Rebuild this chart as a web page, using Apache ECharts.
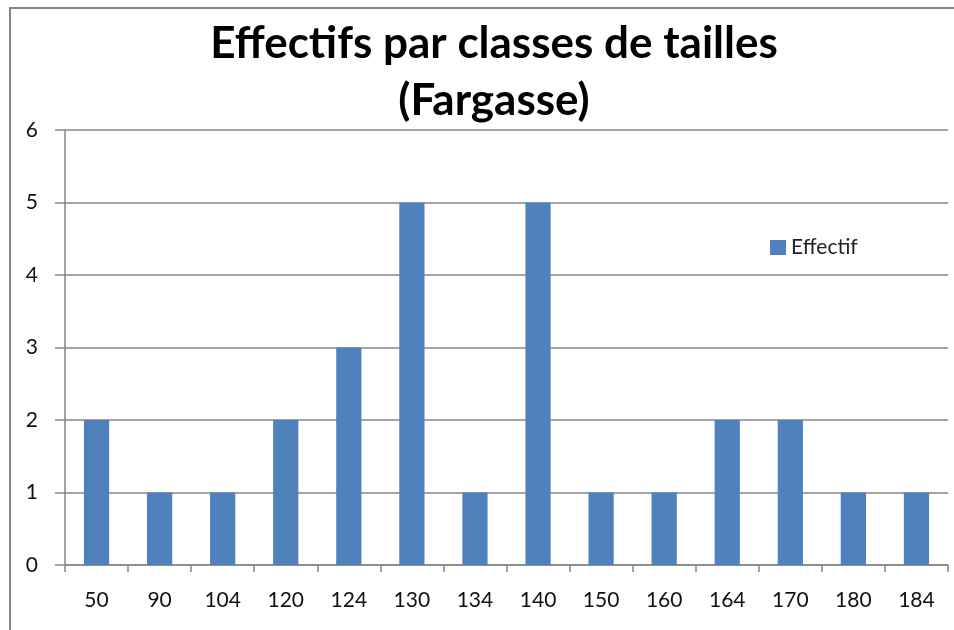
<!DOCTYPE html>
<html><head><meta charset="utf-8">
<script src="https://cdn.jsdelivr.net/npm/echarts@6/dist/echarts.min.js"></script>
<style>html,body{margin:0;padding:0;background:#fff}#c{width:954px;height:630px}</style>
</head><body><div id="c"></div>
<script>
const categories = ['50','90','104','120','124','130','134','140','150','160','164','170','180','184'];
const effectif = [2,1,1,2,3,5,1,5,1,1,2,2,1,1];
const yTicks = [0,1,2,3,4,5,6];

const chart = echarts.init(document.getElementById('c'), null, {renderer:'canvas'});
chart.setOption({
  animation:false,
  backgroundColor:'#fff',
  graphic:[
    {type:'polyline', shape:{points:[[10,640],[10,8],[960,8]]}, style:{stroke:'#868686', lineWidth:2, fill:null}}
  ],
  title:{
    text:'Effectifs par classes de tailles\n(Fargasse)',
    left:489, top:10, textAlign:'center',
    textStyle:{fontFamily:'Lato', fontWeight:'bold', fontSize:44, lineHeight:57, color:'#000'}
  },
  legend:{
    data:['Effectif'], left:765, top:232, icon:'rect', itemWidth:16, itemHeight:15, itemGap:6,
    textStyle:{fontFamily:'Lato', fontSize:21, color:'#222'}
  },
  grid:{left:65, right:6, top:130, bottom:65, containLabel:false},
  xAxis:{
    type:'category', data:categories,
    axisLine:{lineStyle:{color:'#868686', width:1.5}},
    axisTick:{show:true, length:7, lineStyle:{color:'#868686', width:1.5}},
    axisLabel:{margin:25, fontFamily:'Lato', fontSize:21, color:'#111'}
  },
  yAxis:{
    type:'value', min:0, max:6, interval:1,
    axisLine:{show:true, lineStyle:{color:'#868686', width:1.5}},
    axisTick:{show:true, length:10, lineStyle:{color:'#868686', width:1.5}},
    splitLine:{lineStyle:{color:'#868686', width:1.5}},
    axisLabel:{margin:27, fontFamily:'Lato', fontSize:21, color:'#111',
      formatter:v=>yTicks.includes(v)?String(v):''}
  },
  series:[{name:'Effectif', type:'bar', data:effectif, barWidth:'40%', itemStyle:{color:'#4F81BD'}}]
});
</script></body></html>
